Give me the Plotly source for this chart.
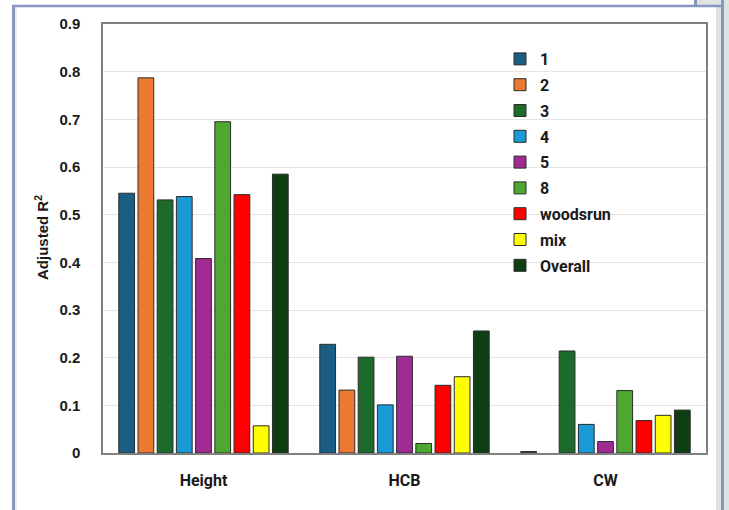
import plotly.graph_objects as go

categories = ["Height", "HCB", "CW"]
series_names = ["1", "2", "3", "4", "5", "8", "woodsrun", "mix", "Overall"]
series_colors = ["#1B5E84", "#EC7A33", "#1C6B2B", "#1A9AD6", "#A02B93",
                 "#4EA72E", "#FF0000", "#FFFF00", "#0E3F14"]
values_1 = [0.545, 0.228, 0.003]
values_2 = [0.787, 0.132, None]
values_3 = [0.531, 0.201, 0.214]
values_4 = [0.538, 0.101, 0.060]
values_5 = [0.408, 0.203, 0.024]
values_8 = [0.695, 0.020, 0.131]
values_woodsrun = [0.542, 0.142, 0.068]
values_mix = [0.057, 0.160, 0.079]
values_overall = [0.585, 0.256, 0.090]
all_values = [values_1, values_2, values_3, values_4, values_5, values_8,
              values_woodsrun, values_mix, values_overall]
y_ticks = [0, 0.1, 0.2, 0.3, 0.4, 0.5, 0.6, 0.7, 0.8, 0.9]
y_tick_labels = ["0", "0.1", "0.2", "0.3", "0.4", "0.5", "0.6", "0.7", "0.8", "0.9"]

W, H = 729, 510
L, R, T, B = 103, 706, 24, 453


def px_x(p):
    return (p - L) / (R - L)


def px_y(p):
    return (B - p) / (B - T)


fig = go.Figure()
for name, col, vals in zip(series_names, series_colors, all_values):
    fig.add_trace(go.Bar(
        x=categories, y=vals, name=name, legendgroup=name,
        marker=dict(color=col, line=dict(color="#2b2b2b", width=1)),
    ))

frame_blue = "#8797BE"
strip = "#DEE5E0"
shapes = [
    dict(type="rect", xref="paper", yref="paper", x0=px_x(697), x1=px_x(729), y0=px_y(0), y1=px_y(6),
         fillcolor=strip, line=dict(width=0), layer="below"),
    dict(type="rect", xref="paper", yref="paper", x0=px_x(716), x1=px_x(729), y0=px_y(6), y1=px_y(515),
         fillcolor=strip, line=dict(width=0), layer="below"),
    dict(type="line", xref="paper", yref="paper", x0=px_x(13.5), x1=px_x(13.5), y0=px_y(5), y1=px_y(515),
         line=dict(color=frame_blue, width=3)),
    dict(type="line", xref="paper", yref="paper", x0=px_x(16), x1=px_x(16), y0=px_y(7), y1=px_y(515),
         line=dict(color="#D5DCEA", width=1)),
    dict(type="line", xref="paper", yref="paper", x0=px_x(12), x1=px_x(724), y0=px_y(6), y1=px_y(6),
         line=dict(color=frame_blue, width=2.5)),
    dict(type="line", xref="paper", yref="paper", x0=px_x(695.5), x1=px_x(695.5), y0=px_y(0), y1=px_y(6),
         line=dict(color=frame_blue, width=3)),
    dict(type="line", xref="paper", yref="paper", x0=px_x(722.5), x1=px_x(722.5), y0=px_y(0), y1=px_y(515),
         line=dict(color=frame_blue, width=3)),
]

fig.update_layout(
    width=W, height=H,
    margin=dict(l=L, r=W - R, t=T, b=H - B, pad=0),
    paper_bgcolor="white", plot_bgcolor="white",
    barmode="group", bargap=0.14, bargroupgap=0.18,
    font=dict(family="Liberation Sans, Arial, sans-serif", color="#1a1a1a"),
    shapes=shapes,
    showlegend=True,
    legend=dict(
        x=px_x(500), xanchor="left", y=px_y(42), yanchor="top",
        bgcolor="rgba(0,0,0,0)", tracegroupgap=2,
        font=dict(family="Roboto, Liberation Sans, sans-serif", size=16, color="#1a1a1a", weight="bold"),
    ),
    annotations=[dict(
        text="<b>Adjusted R<sup>2</sup></b>", xref="paper", yref="paper",
        x=px_x(41), y=px_y(238), textangle=-90, showarrow=False,
        xanchor="center", yanchor="middle",
        font=dict(family="Liberation Sans, Arial, sans-serif", size=15, color="#1a1a1a"),
    )],
)
fig.update_xaxes(
    showline=True, mirror=True, linecolor="#808080", linewidth=1.5,
    ticks="", ticklabelstandoff=12,
    tickfont=dict(family="Roboto, Liberation Sans, sans-serif", size=16, weight="bold", color="#1a1a1a"),
)
fig.update_yaxes(
    range=[0, 0.9], tickvals=y_ticks, ticktext=y_tick_labels,
    showline=True, mirror=True, linecolor="#808080", linewidth=1.5,
    showgrid=True, gridcolor="#E4E4E4", gridwidth=1, zeroline=False,
    ticks="", ticklabelstandoff=18,
    tickfont=dict(family="Liberation Sans, Arial, sans-serif", size=15, weight="bold", color="#1a1a1a"),
)

fig.write_html("out.html", config={"displayModeBar": False},
               post_script="document.body.style.margin='0';document.body.style.overflow='hidden';")
